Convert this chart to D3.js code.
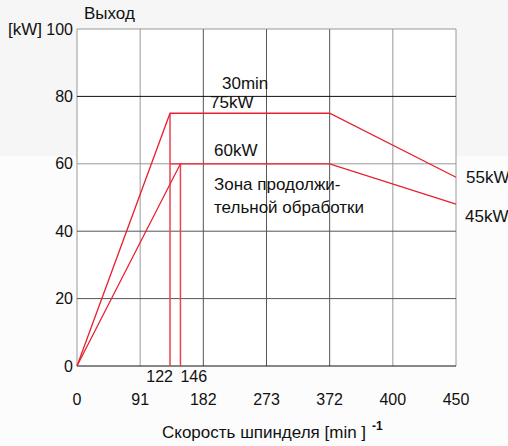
<!DOCTYPE html>
<html>
<head>
<meta charset="utf-8">
<script src="https://cdn.jsdelivr.net/npm/d3@7/dist/d3.min.js"></script>
<style>
    body { margin: 0; background: #fcfcfc; }
    text { font-family: "Liberation Sans", Arial, sans-serif; fill: #111; }
</style>
</head>
<body>
<div id="Chart"></div>
<script>
(function() {
    var width = 508,
        height = 446;
    var margin = {top: 29, right: 52, bottom: 80, left: 77};

    // axis ticks (spindle speed, min-1) - drawn equally spaced
    var xTicks = [0, 91, 182, 273, 372, 400, 450];
    var yTicks = [0, 20, 40, 60, 80, 100];

    // power curves: speed -> kW
    var curve30min = [
        {speed: 0, kw: 0},
        {speed: 134, kw: 75},
        {speed: 372, kw: 75},
        {speed: 450, kw: 56}
    ];
    var curveCont = [
        {speed: 0, kw: 0},
        {speed: 149, kw: 60},
        {speed: 372, kw: 60},
        {speed: 450, kw: 48}
    ];
    // base speed markers
    var baseSpeeds = [
        {speed: 134, kw: 75, label: "122", anchor: "end", dx: 3},
        {speed: 149, kw: 60, label: "146", anchor: "start", dx: 0}
    ];

    var svg = d3.select("#Chart").append("svg")
        .attr("width", width)
        .attr("height", height);

    svg.append("rect")
        .attr("width", width)
        .attr("height", 156)
        .attr("fill", "#f6f6f6");

    var plotW = width - margin.left - margin.right,
        plotH = height - margin.top - margin.bottom;

    var xScale = d3.scaleLinear()
        .domain(xTicks)
        .range(xTicks.map(function(d, i) { return i * plotW / (xTicks.length - 1); }));

    var yScale = d3.scaleLinear()
        .domain([0, 100])
        .range([plotH, 0]);

    var plot = svg.append("g")
        .attr("transform", "translate(" + margin.left + "," + margin.top + ")");

    plot.append("rect")
        .attr("width", plotW)
        .attr("height", plotH)
        .attr("fill", "#fff");

    //grid
    plot.selectAll("line.vgrid")
        .data(xTicks)
        .enter().append("line")
        .attr("class", "vgrid")
        .attr("x1", function(d) { return xScale(d); })
        .attr("x2", function(d) { return xScale(d); })
        .attr("y1", 0)
        .attr("y2", plotH)
        .attr("stroke", function(d, i) { return (i === 0 || i >= 5 || i === 1) ? "#999" : "#555"; })
        .attr("stroke-width", 1);

    plot.selectAll("line.hgrid")
        .data(yTicks)
        .enter().append("line")
        .attr("class", "hgrid")
        .attr("x1", 0)
        .attr("x2", plotW)
        .attr("y1", function(d) { return yScale(d); })
        .attr("y2", function(d) { return yScale(d); })
        .attr("stroke", function(d) {
            if (d === 80 || d === 0) return "#111";
            if (d === 100 || d === 60) return "#999";
            return "#555";
        })
        .attr("stroke-width", 1);

    // y tick labels
    plot.selectAll("text.ytick")
        .data(yTicks)
        .enter().append("text")
        .attr("class", "ytick")
        .attr("x", -4)
        .attr("y", function(d) { return yScale(d); })
        .attr("dy", "0.35em")
        .attr("text-anchor", "end")
        .style("font-size", "16px")
        .text(function(d) { return d; });

    // x tick labels
    plot.selectAll("text.xtick")
        .data(xTicks)
        .enter().append("text")
        .attr("class", "xtick")
        .attr("x", function(d) { return xScale(d); })
        .attr("y", plotH + 39)
        .attr("text-anchor", "middle")
        .style("font-size", "16px")
        .text(function(d) { return d; });

    var line = d3.line()
        .x(function(d) { return xScale(d.speed); })
        .y(function(d) { return yScale(d.kw); });

    // base speed verticals
    plot.selectAll("line.base")
        .data(baseSpeeds)
        .enter().append("line")
        .attr("class", "base")
        .attr("x1", function(d) { return xScale(d.speed); })
        .attr("x2", function(d) { return xScale(d.speed); })
        .attr("y1", plotH)
        .attr("y2", function(d) { return yScale(d.kw); })
        .attr("stroke", "#e8434f")
        .attr("stroke-width", 1.5);

    plot.append("line")
        .attr("x1", xScale(baseSpeeds[0].speed))
        .attr("x2", xScale(baseSpeeds[1].speed))
        .attr("y1", yScale(60))
        .attr("y2", yScale(60))
        .attr("stroke", "#e8434f")
        .attr("stroke-width", 1.5);

    [curve30min, curveCont].forEach(function(c) {
        plot.append("path")
            .datum(c)
            .attr("d", line)
            .attr("fill", "none")
            .attr("stroke", "#e8202f")
            .attr("stroke-width", 1.3);
    });

    plot.selectAll("text.base")
        .data(baseSpeeds)
        .enter().append("text")
        .attr("class", "base")
        .attr("x", function(d) { return xScale(d.speed) + d.dx; })
        .attr("y", plotH + 16)
        .attr("text-anchor", function(d) { return d.anchor; })
        .style("font-size", "16px")
        .text(function(d) { return d.label; });

    // annotations
    var notes = [
        {text: "30min", x: 222, y: 89},
        {text: "75kW", x: 210, y: 108},
        {text: "60kW", x: 214, y: 156},
        {text: "Зона продолжи-", x: 214, y: 190},
        {text: "тельной обработки", x: 214, y: 213},
        {text: "55kW", x: 466, y: 183},
        {text: "45kW", x: 465, y: 222},
        {text: "Выход", x: 84, y: 19},
        {text: "[kW]", x: 8, y: 35}
    ];
    svg.selectAll("text.note")
        .data(notes)
        .enter().append("text")
        .attr("class", "note")
        .attr("x", function(d) { return d.x; })
        .attr("y", function(d) { return d.y; })
        .style("font-size", "17px")
        .text(function(d) { return d.text; });

    var title = svg.append("text")
        .attr("x", 162)
        .attr("y", 438)
        .style("font-size", "17px");
    title.append("tspan").text("Скорость шпинделя [min ]");
    title.append("tspan")
        .attr("dx", 6)
        .attr("dy", -8)
        .style("font-size", "12px")
        .style("font-weight", "bold")
        .text("-1");
})();
</script>
</body>
</html>
